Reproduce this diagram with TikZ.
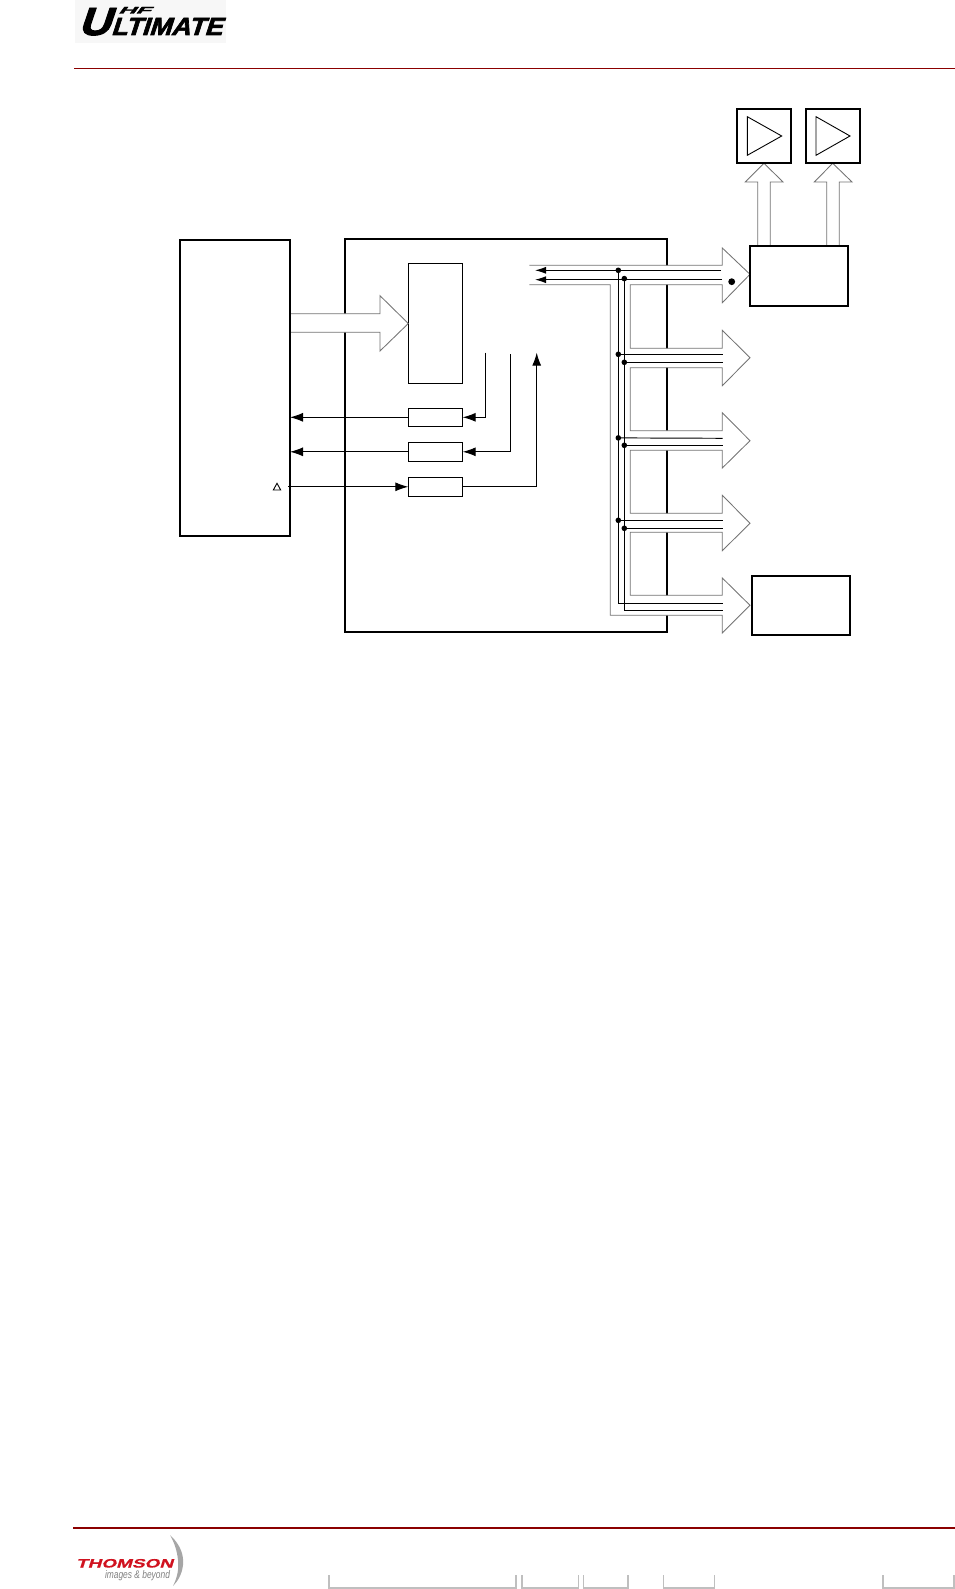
\documentclass[tikz,border=0pt]{standalone}
\usepackage{fontspec}
\setmainfont{Liberation Sans}
\usetikzlibrary{arrows.meta,positioning}
\definecolor{rule}{HTML}{8B0000}
\definecolor{thom}{HTML}{D0121F}
\definecolor{bus}{gray}{0.45}
\definecolor{foot}{gray}{0.75}
\newfontfamily\logofont[FakeBold=2.5,FakeSlant=0.3]{Liberation Sans}
\newfontfamily\thomfont[FakeBold=0.6,FakeSlant=0.2]{Liberation Sans}
\tikzset{
  x=1pt,y=-1pt,
  heavy/.style={draw=black,line width=1.8pt,fill=white,inner sep=0,outer sep=0,rectangle},
  light/.style={draw=black,line width=0.9pt,fill=white,inner sep=0,outer sep=0,rectangle},
  wire/.style={draw=black,line width=0.95pt},
  bigtip/.style={-{Latex[length=13pt,width=9pt]}},
  smalltip/.style={-{Latex[length=11pt,width=7pt]}},
  busline/.style={draw=bus,line width=0.85pt,fill=white,line join=miter},
  joint/.style={circle,fill=black,inner sep=0,outer sep=0,minimum size=5.6pt},
  footbr/.style={draw=foot,line width=1.4pt},
  plain/.style={inner sep=0,outer sep=0},
}
\begin{document}
\begin{tikzpicture}
\useasboundingbox (0,0) rectangle (955,1589);
% header
\fill[gray!6] (75,0) rectangle (226,43);
\node[plain,anchor=north west] (logoU) at (78,8) {\resizebox{32pt}{27pt}{\logofont\bfseries U}};
\node[plain,anchor=north west] (logoH) at (118,7) {\resizebox{32pt}{6.5pt}{\logofont\bfseries HF}};
\node[plain,anchor=north west] (logoL) at (111,18) {\resizebox{111pt}{17pt}{\logofont\bfseries LTIMATE}};
\coordinate (hl) at (74.3,68.3);
\coordinate (hr) at (955,68.3);
\draw[rule,line width=0.9pt] (hl) -- (hr);
% main block B
\node[heavy,minimum width=321.7pt,minimum height=392.7pt] (B) at (505.85,435.35) {};
% inner boxes
\node[light,minimum width=54.4pt,minimum height=120pt] (reg) at (435.5,323.3) {};
\node[light,minimum width=54.4pt,minimum height=18pt] (b1) at (435.5,417.3) {};
\node[light,minimum width=54.4pt,minimum height=19pt] (b2) at (435.5,451.8) {};
\node[light,minimum width=54.4pt,minimum height=19pt] (b3) at (435.5,486.8) {};
% fat arrow A -> reg
\path[busline] (290,313.7) -- (380,313.7) -- (380,295.7) -- (408.3,323.5) -- (380,351) -- (380,332.3) -- (290,332.3);
% main block A
\node[heavy,minimum width=110pt,minimum height=295.7pt,fill=none] (A) at (235,387.85) {};
% signal connectors
\draw[wire,bigtip] (b1.west) -- (A.east |- b1.west);
\draw[wire,bigtip] (b2.west) -- (A.east |- b2.west);
\coordinate (so) at (288,486.8);
\draw[wire,bigtip] (so) -- (b3.west);
\coordinate (p1) at (485.3,352.7);
\coordinate (p2) at (510.3,354);
\coordinate (p3) at (536.7,352.7);
\draw[wire,bigtip] (p1) |- (b1.east);
\draw[wire,bigtip] (p2) |- (b2.east);
\draw[wire,bigtip] (b3.east) -| (p3);
\draw[black,line width=0.9pt] (273.3,490) -- (280.7,490) -- (277,483.3) -- cycle;
% bus outline
\path[busline] (529.3,265.3) -- (722.3,265.3) -- (722.3,248) -- (750,274.3) -- (722.3,302.7) -- (722.3,284.7)
  -- (630.3,284.7) -- (630.3,348.3) -- (722.3,348.3) -- (722.3,330.3) -- (750,357.7) -- (722.3,385.7) -- (722.3,367.7)
  -- (630.3,367.7) -- (630.3,430.7) -- (722.3,430.7) -- (722.3,412.7) -- (750,440.7) -- (722.3,468) -- (722.3,450.3)
  -- (630.3,450.3) -- (630.3,513.3) -- (722.3,513.3) -- (722.3,495.3) -- (750,523.3) -- (722.3,550.7) -- (722.3,532.3)
  -- (630.3,532.3) -- (630.3,595.3) -- (722.3,595.3) -- (722.3,578) -- (750,605.3) -- (722.3,633) -- (722.3,615.3)
  -- (610.3,615.3) -- (610.3,284.7) -- (529.3,284.7);
% bus wires
\node[joint] (j1) at (618.3,270.3) {};
\node[joint] (k1) at (624.3,278.6) {};
\node[joint] (j2) at (618.3,354.3) {};
\node[joint] (k2) at (624.3,362.3) {};
\node[joint] (j3) at (618.3,437.9) {};
\node[joint] (k3) at (624.3,445.3) {};
\node[joint] (j4) at (618.3,520.3) {};
\node[joint] (k4) at (624.3,528.3) {};
\coordinate (t1) at (535,270.3);
\coordinate (t2) at (535,279.7);
\coordinate (e1) at (721,270.3);
\coordinate (f1) at (722,279.7);
\coordinate (e2) at (722.7,354.3);
\coordinate (f2) at (722.7,362.3);
\coordinate (e3) at (722.7,438.3);
\coordinate (f3) at (722.7,445.3);
\coordinate (e4) at (722.7,520.3);
\coordinate (f4) at (722.7,528.3);
\coordinate (e5) at (722.7,603.3);
\coordinate (f5) at (722.7,610.7);
\draw[wire,smalltip] (e1) -- (t1);
\draw[wire,smalltip] (f1) -- (t2);
\draw[wire] (j1.center) |- (e5);
\draw[wire] (k1.center) |- (f5);
\draw[wire] (j2.center) -- (e2);
\draw[wire] (k2.center) -- (f2);
\draw[wire] (j3.center) -- (e3);
\draw[wire] (k3.center) -- (f3);
\draw[wire] (j4.center) -- (e4);
\draw[wire] (k4.center) -- (f4);
\node[circle,fill=black,inner sep=0,minimum size=6.8pt] (dot) at (731.7,281.7) {};
% right blocks
\path[busline] (757.7,245.7) -- (757.7,182) -- (745.3,182) -- (764,163.3) -- (783,182) -- (770.3,182) -- (770.3,245.7);
\path[busline] (826.7,245.7) -- (826.7,182) -- (814.3,182) -- (832.7,163.3) -- (852,182) -- (839.3,182) -- (839.3,245.7);
\node[heavy,minimum width=98.3pt,minimum height=60.3pt] (C) at (799.15,275.85) {};
\node[heavy,minimum width=98.6pt,minimum height=59.6pt] (D) at (801,605.5) {};
\node[heavy,minimum width=54pt,minimum height=53.4pt] (amp1) at (764.3,136) {};
\node[heavy,minimum width=54pt,minimum height=53.4pt] (amp2) at (833.3,136) {};
\draw[black,line width=0.9pt] (747.3,116.7) -- (781.7,136) -- (747.3,155.3) -- cycle;
\draw[black,line width=0.9pt] (816,116.7) -- (850,136) -- (816,155.3) -- cycle;
% footer
\coordinate (fl) at (73,1527.7);
\coordinate (fr) at (955,1527.7);
\draw[rule,line width=1.8pt] (fl) -- (fr);
\node[plain,anchor=north west,text=thom] (thomson) at (76,1559) {\resizebox{97pt}{8.5pt}{\thomfont\bfseries THOMSON}};
\node[plain,anchor=north west,text=gray] (beyond) at (105,1570.5) {\resizebox{65pt}{8pt}{\itshape images \& beyond}};
\fill[gray!70] (170,1535) .. controls (181,1545) and (184,1556) .. (183,1565) .. controls (182,1574) and (178,1581) .. (173,1586) .. controls (177,1578) and (179,1570) .. (178,1560) .. controls (177,1550) and (174,1542) .. (170,1535) -- cycle;
\draw[footbr] (329,1575) -- (329,1588) -- (516,1588) -- (516,1575);
\draw[footbr] (522,1575) -- (522,1588) -- (578.3,1588) -- (578.3,1575);
\draw[footbr] (583.7,1575) -- (583.7,1588) -- (628,1588) -- (628,1575);
\draw[footbr,line width=1.1pt] (663.3,1575) -- (663.3,1588) -- (714.3,1588) -- (714.3,1575);
\draw[footbr] (883,1575) -- (883,1588) -- (954,1588) -- (954,1575);
\end{tikzpicture}
\end{document}
